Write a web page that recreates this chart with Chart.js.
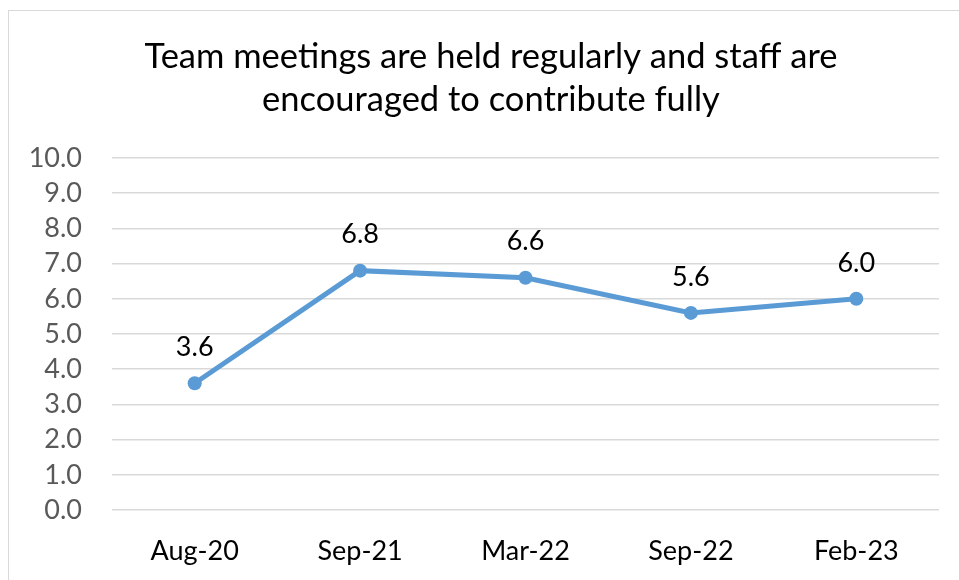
<!DOCTYPE html>
<html>
<head>
<meta charset="utf-8">
<script src="https://cdn.jsdelivr.net/npm/chart.js@4"></script>
<style>
  body { margin: 0; background: #fff; }
  #wrap { position: relative; width: 959px; height: 580px; overflow: hidden; }
  #frame {
    position: absolute; left: 8px; top: 10px; width: 1000px; height: 600px;
    border: 1px solid #d9d9d9; box-sizing: border-box;
  }
  canvas { position: absolute; left: 0; top: 0; }
</style>
</head>
<body>
<div id="wrap">
  <div id="frame"></div>
  <canvas id="chart" width="959" height="580"></canvas>
</div>
<script>
// chart data
const titleLines = [
  "Team meetings are held regularly and staff are",
  "encouraged to contribute fully",
];
const periods = ["Aug-20", "Sep-21", "Mar-22", "Sep-22", "Feb-23"];
const scores = [3.6, 6.8, 6.6, 5.6, 6.0];
const yMin = 0;
const yMax = 10;
const yStep = 1;

const FONT = "Lato, 'Open Sans', sans-serif";

// title drawn by hand so both lines sit where they should
const titlePlugin = {
  id: "titleLines",
  afterDraw(chart) {
    const ctx = chart.ctx;
    ctx.save();
    ctx.fillStyle = "#000";
    ctx.font = "34.5px " + FONT;
    ctx.textAlign = "center";
    ctx.textBaseline = "middle";
    titleLines.forEach((line, i) => ctx.fillText(line, 491, 57 + i * 43));
    ctx.restore();
  },
};

// value labels above each point
const valueLabels = {
  id: "valueLabels",
  afterDatasetsDraw(chart) {
    const ctx = chart.ctx;
    const meta = chart.getDatasetMeta(0);
    ctx.save();
    ctx.fillStyle = "#000";
    ctx.font = "27px " + FONT;
    ctx.textAlign = "center";
    ctx.textBaseline = "middle";
    meta.data.forEach((pt, i) => {
      ctx.fillText(scores[i].toFixed(1), pt.x, pt.y - 36);
    });
    ctx.restore();
  },
};

new Chart(document.getElementById("chart").getContext("2d"), {
  type: "line",
  data: {
    labels: periods,
    datasets: [
      {
        data: scores,
        borderColor: "#5b9bd5",
        backgroundColor: "#5b9bd5",
        borderWidth: 5,
        pointRadius: 7,
        pointBackgroundColor: "#5b9bd5",
        pointBorderWidth: 0,
        tension: 0,
      },
    ],
  },
  options: {
    responsive: false,
    animation: false,
    layout: { padding: { top: 158, right: 20, left: 0, bottom: 0 } },
    plugins: { legend: { display: false }, tooltip: { enabled: false } },
    scales: {
      x: {
        offset: true,
        grid: { display: false, drawTicks: false },
        border: { display: false },
        ticks: { color: "#000", font: { family: FONT, size: 27 }, padding: 25 },
        afterFit: (s) => { s.height = 70; },
      },
      y: {
        min: yMin,
        max: yMax,
        grid: { color: "#d9d9d9", lineWidth: 1.5, drawTicks: false },
        border: { display: false },
        ticks: {
          stepSize: yStep,
          autoSkip: false,
          color: "#595959",
          font: { family: FONT, size: 27 },
          padding: 30,
          callback: (v) => v.toFixed(1),
        },
        afterFit: (s) => { s.width = 112; },
      },
    },
  },
  plugins: [titlePlugin, valueLabels],
});
</script>
</body>
</html>
